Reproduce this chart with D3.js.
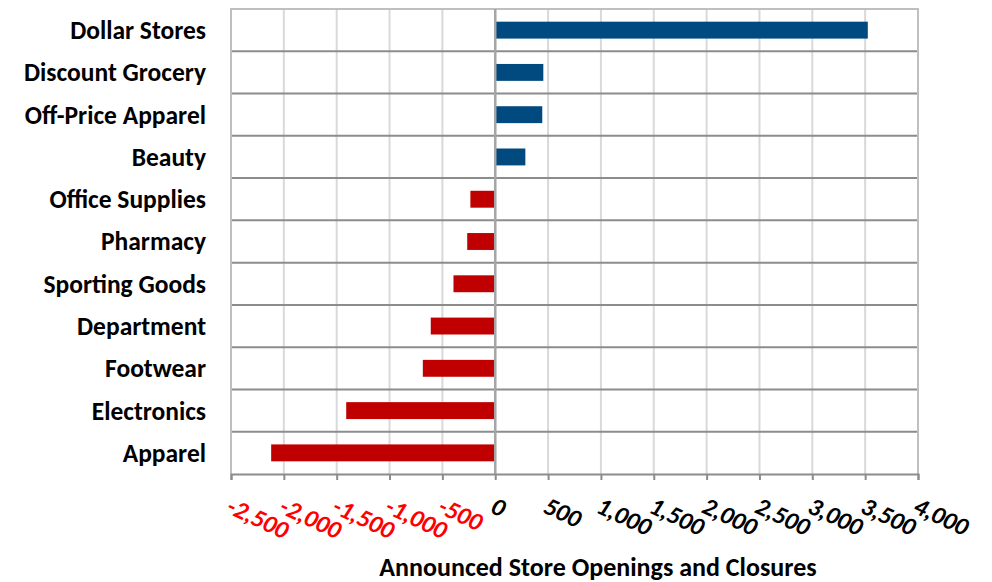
<!DOCTYPE html>
<html>
<head>
<meta charset="utf-8">
<script src="https://cdn.jsdelivr.net/npm/d3@7"></script>
<style>
  body { margin: 0; background: #fff; }
  text { font-family: Carlito, Calibri, Lato, "Open Sans", sans-serif; }
</style>
</head>
<body>
<div id="chart"></div>
<script>
var categories = ["Dollar Stores", "Discount Grocery", "Off-Price Apparel", "Beauty",
  "Office Supplies", "Pharmacy", "Sporting Goods", "Department", "Footwear",
  "Electronics", "Apparel"];
var storeChanges = [3525, 455, 445, 285, -235, -265, -395, -610, -685, -1410, -2120];
var tickValues = [-2500, -2000, -1500, -1000, -500, 0, 500, 1000, 1500, 2000, 2500, 3000, 3500, 4000];
var axisTitle = "Announced Store Openings and Closures";

var svgWidth = 992;
var svgHeight = 582;
var margin = { top: 9, right: 74, bottom: 108, left: 231 };
var width = svgWidth - margin.left - margin.right;
var height = svgHeight - margin.top - margin.bottom;

var fmt = d3.formatLocale({ decimal: ".", thousands: ",", grouping: [3], currency: ["$", ""], minus: "-" }).format(",");

var svg = d3.select("#chart")
  .append("svg")
  .attr("width", svgWidth)
  .attr("height", svgHeight);

var chartGroup = svg.append("g")
  .attr("transform", `translate(${margin.left}, ${margin.top})`);

var data = categories.map((c, i) => ({ name: c, value: storeChanges[i] }));

var xScale = d3.scaleLinear()
  .domain([-2500, 4000])
  .range([0, width]);

var yScale = d3.scaleBand()
  .domain(categories)
  .range([0, height])
  .paddingInner(0.6)
  .paddingOuter(0.3);

// vertical gridlines
chartGroup.selectAll(".vgrid")
  .data(tickValues)
  .enter()
  .append("line")
  .attr("x1", d => xScale(d))
  .attr("x2", d => xScale(d))
  .attr("y1", 0)
  .attr("y2", height)
  .attr("stroke", "#d9d9d9")
  .attr("stroke-width", 2);

// horizontal lines between categories
var step = yScale.step();
chartGroup.selectAll(".hgrid")
  .data(categories.slice(1))
  .enter()
  .append("line")
  .attr("x1", 0)
  .attr("x2", width)
  .attr("y1", (d, i) => (i + 1) * step)
  .attr("y2", (d, i) => (i + 1) * step)
  .attr("stroke", "#8c8c8c")
  .attr("stroke-width", 2);

// plot border
chartGroup.append("path")
  .attr("d", `M0,${height}V0H${width}V${height}`)
  .attr("fill", "none")
  .attr("stroke", "#bfbfbf")
  .attr("stroke-width", 2);

// bars
chartGroup.selectAll(".bar")
  .data(data)
  .enter()
  .append("rect")
  .attr("x", d => xScale(Math.min(0, d.value)))
  .attr("y", d => yScale(d.name))
  .attr("width", d => Math.abs(xScale(d.value) - xScale(0)))
  .attr("height", yScale.bandwidth())
  .attr("fill", d => d.value >= 0 ? "#004a80" : "#c00000");

// zero line
chartGroup.append("line")
  .attr("x1", xScale(0))
  .attr("x2", xScale(0))
  .attr("y1", 0)
  .attr("y2", height)
  .attr("stroke", "#a6a6a6")
  .attr("stroke-width", 2.5);

// bottom axis
var bottomAxis = d3.axisBottom(xScale)
  .tickValues(tickValues)
  .tickSize(6)
  .tickFormat("");

var axisG = chartGroup.append("g")
  .attr("transform", `translate(0, ${height})`)
  .call(bottomAxis);
axisG.select(".domain").attr("stroke", "#8c8c8c").attr("stroke-width", 2);
axisG.selectAll(".tick line").attr("stroke", "#8c8c8c").attr("stroke-width", 2);

// rotated tick labels
chartGroup.selectAll(".xlabel")
  .data(tickValues)
  .enter()
  .append("text")
  .attr("transform", d => `translate(${xScale(d) - 6}, ${height + 38}) rotate(25)`)
  .attr("font-size", "25px")
  .attr("font-weight", "bold")
  .attr("font-style", "italic")
  .attr("fill", d => d < 0 ? "#ff0000" : "#000")
  .text(d => fmt(d));

// category labels
chartGroup.selectAll(".ylabel")
  .data(categories)
  .enter()
  .append("text")
  .attr("x", -25)
  .attr("y", d => yScale(d) + yScale.bandwidth() / 2)
  .attr("dy", "0.35em")
  .attr("text-anchor", "end")
  .attr("font-size", "25.5px")
  .attr("font-weight", "bold")
  .text(d => d);

// axis title
svg.append("text")
  .attr("x", 598)
  .attr("y", 576)
  .attr("text-anchor", "middle")
  .attr("font-size", "26px")
  .attr("font-weight", "bold")
  .text(axisTitle);
</script>
</body>
</html>
